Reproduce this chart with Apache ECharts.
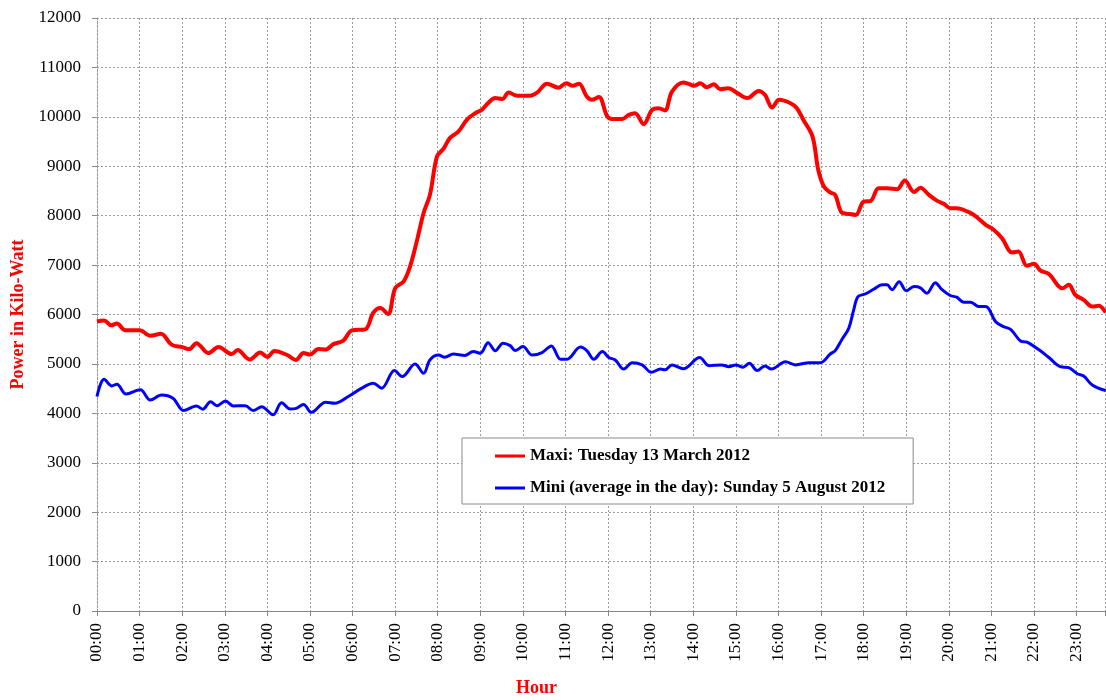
<!DOCTYPE html>
<html>
<head>
<meta charset="utf-8">
<script src="https://cdn.jsdelivr.net/npm/echarts@6/dist/echarts.min.js"></script>
<style>html,body{margin:0;padding:0;background:#fff}#chart{width:1106px;height:700px}</style>
</head>
<body>
<div id="chart"></div>
<script>
// times in minutes after midnight
var maxiTimes = [0,10,20,28,40,60,75,90,105,120,130,140,157,171,190,198,215,230,240,250,268,280,291,300,312,322,333,347,359,378,389,399,410,420,432,441,451,460,469,479,488,497,509,521,533,542,551,561,571,580,592,610,620,634,650,661,670,679,690,697,707,719,728,740,749,758,770,782,791,800,810,826,833,841,850,859,869,878,889,902,916,920,932,941,951,961,977,986,995,1008,1016,1024,1033,1040,1049,1059,1069,1080,1090,1101,1113,1127,1138,1151,1160,1172,1183,1193,1202,1211,1226,1237,1252,1263,1275,1289,1298,1310,1320,1329,1341,1360,1369,1378,1390,1402,1411,1421];
var maxiValues = [5860,5880,5780,5820,5680,5680,5570,5610,5390,5340,5300,5420,5220,5340,5200,5280,5090,5230,5140,5260,5180,5080,5220,5190,5300,5290,5400,5470,5680,5700,6030,6130,6010,6530,6670,6970,7510,8050,8420,9200,9350,9570,9700,9940,10075,10140,10280,10380,10360,10490,10425,10425,10490,10670,10590,10680,10630,10670,10410,10345,10400,10005,9955,9955,10040,10075,9850,10140,10175,10130,10510,10695,10670,10630,10680,10600,10660,10560,10580,10480,10380,10400,10525,10445,10190,10345,10275,10175,9940,9600,8930,8590,8470,8420,8065,8035,8015,8285,8300,8555,8555,8535,8710,8480,8565,8420,8305,8240,8150,8150,8085,7995,7815,7715,7545,7255,7275,6985,7025,6890,6820,6530,6600,6400,6295,6160,6175,6040];
var miniTimes = [0,10,21,28,41,61,75,91,107,122,140,149,160,169,181,192,209,220,232,248,260,272,279,291,302,322,335,354,373,389,401,419,430,448,460,469,481,490,502,518,530,540,551,561,572,582,589,600,613,627,640,653,662,681,690,700,712,721,730,742,754,768,781,794,800,810,826,849,862,880,890,900,910,919,930,941,950,970,984,1003,1019,1033,1040,1049,1059,1066,1072,1082,1094,1106,1113,1120,1130,1140,1151,1160,1169,1181,1190,1202,1211,1221,1231,1242,1252,1266,1277,1287,1301,1310,1327,1341,1357,1369,1381,1390,1402,1421];
var miniValues = [4340,4690,4555,4590,4390,4475,4270,4370,4305,4055,4150,4085,4235,4155,4250,4150,4155,4055,4135,3970,4215,4090,4095,4180,4020,4225,4205,4340,4510,4610,4510,4865,4745,5000,4810,5080,5180,5135,5200,5170,5250,5215,5430,5265,5420,5370,5270,5350,5180,5230,5365,5095,5095,5340,5270,5095,5250,5130,5080,4895,5025,4980,4830,4895,4880,4980,4900,5130,4965,4980,4945,4980,4935,5015,4865,4960,4895,5045,4980,5025,5025,5200,5270,5485,5720,6095,6360,6415,6510,6600,6600,6500,6665,6480,6565,6540,6430,6645,6510,6385,6350,6250,6250,6160,6160,5855,5755,5700,5465,5440,5285,5130,4945,4925,4800,4755,4575,4460];
var seriesNames = ['Maxi: Tuesday 13 March 2012', 'Mini (average in the day): Sunday 5 August 2012'];
var yTicks = {min: 0, max: 12000, step: 1000};
var xTicks = {min: 0, max: 1420, step: 60};

function pairs(t, v) { return t.map(function (x, i) { return [x, v[i]]; }); }
function pad(n) { return (n < 10 ? '0' : '') + n; }

var serif = '"Liberation Serif", "DejaVu Serif", serif';
var chart = echarts.init(document.getElementById('chart'), null, {renderer: 'canvas'});
chart.setOption({
  animation: false,
  backgroundColor: '#fff',
  grid: {left: 97, right: 1, top: 18, bottom: 89, containLabel: false, outerBoundsMode: 'none'},
  graphic: [{
    type: 'text', left: 516, top: 679,
    style: {text: 'Hour', fill: '#ff0000', font: 'bold 18px ' + serif}
  }],
  legend: {
    orient: 'vertical', left: 462, top: 438,
    backgroundColor: '#fff', borderColor: '#8a8a8a', borderWidth: 1,
    padding: [8, 28, 6, 33], itemGap: 12,
    itemWidth: 30, itemHeight: 3, icon: 'rect',
    textStyle: {fontFamily: serif, fontWeight: 'bold', fontSize: 17, color: '#000', lineHeight: 20},
    data: seriesNames
  },
  xAxis: {
    type: 'value', min: xTicks.min, max: xTicks.max, interval: xTicks.step,
    axisLine: {show: true, lineStyle: {color: '#888', width: 1}},
    axisTick: {show: true, length: 5, lineStyle: {color: '#888'}},
    axisLabel: {
      rotate: 90, margin: 12, color: '#000', fontFamily: serif, fontSize: 17,
      formatter: function (v) { return v % 60 === 0 ? pad(v / 60) + ':00' : ''; }
    },
    splitLine: {show: true, lineStyle: {color: '#9a9a9a', type: [2, 2], width: 1}}
  },
  yAxis: {
    type: 'value', min: yTicks.min, max: yTicks.max, interval: yTicks.step,
    name: 'Power in Kilo-Watt', nameLocation: 'middle', nameGap: 70,
    nameTextStyle: {color: '#ff0000', fontFamily: serif, fontWeight: 'bold', fontSize: 18},
    axisLine: {show: true, lineStyle: {color: '#9a9a9a', type: [2, 2]}},
    axisTick: {show: true, length: 5, lineStyle: {color: '#888'}},
    axisLabel: {margin: 16, color: '#000', fontFamily: serif, fontSize: 17,
      formatter: function (v) { return String(v); }},
    splitLine: {show: true, lineStyle: {color: '#9a9a9a', type: [2, 2], width: 1}}
  },
  series: [{
    name: seriesNames[0], type: 'line', data: pairs(maxiTimes, maxiValues),
    showSymbol: false, symbol: 'none', smooth: 0.35,
    lineStyle: {color: '#ff0000', width: 4}, itemStyle: {color: '#ff0000'}
  }, {
    name: seriesNames[1], type: 'line', data: pairs(miniTimes, miniValues),
    showSymbol: false, symbol: 'none', smooth: 0.35,
    lineStyle: {color: '#0000ff', width: 3}, itemStyle: {color: '#0000ff'}
  }]
});
</script>
</body>
</html>
